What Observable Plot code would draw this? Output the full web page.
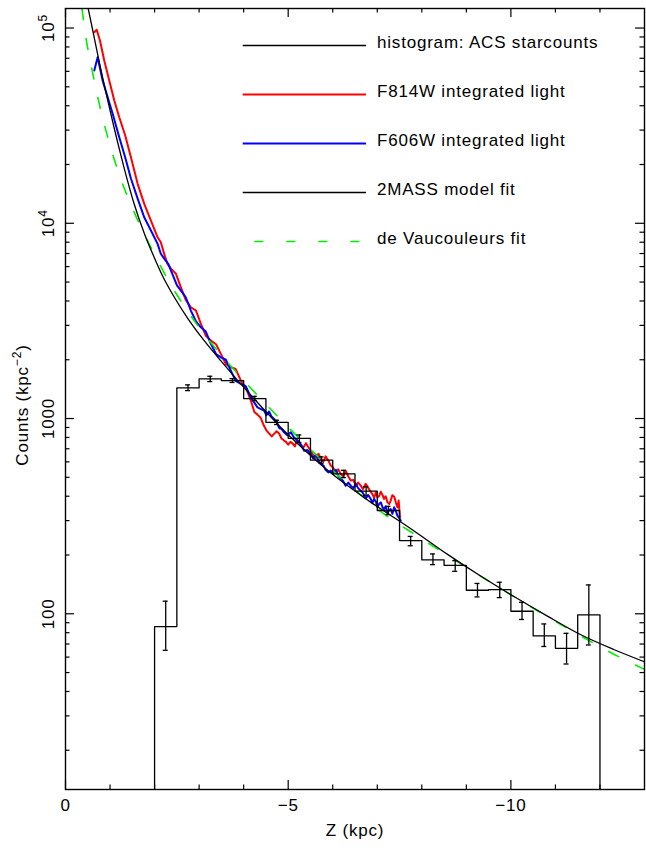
<!DOCTYPE html>
<html>
<head>
<meta charset="utf-8">
<script src="https://cdn.jsdelivr.net/npm/d3@7"></script>
<script src="https://cdn.jsdelivr.net/npm/@observablehq/plot@0.6"></script>
<style>
  html, body { margin: 0; padding: 0; background: #fff; }
  #chart svg { font-family: "Liberation Sans", Arial, sans-serif; }
  #chart svg text { letter-spacing: 0.8px; }
</style>
</head>
<body>
<div id="chart"></div>
<script>
// ---------- histogram: ACS starcounts (bins of 0.5 kpc) ----------
const binLo = [-2, -2.5, -3, -3.5, -4, -4.5, -5, -5.5, -6, -6.5, -7, -7.5, -8, -8.5, -9, -9.5, -10, -10.5, -11, -11.5];
const binWidth = 0.5;
const histCounts = [86, 1435, 1596, 1564, 1265, 956, 792, 612, 521, 425, 338, 237, 189, 177, 132, 133, 103, 77, 66.5, 98.6];
const histErrLo  = [65, 1390, 1546, 1530, 1236, 932, 755, 590, 498, 405, 322, 223, 178.5, 165, 122, 121, 93.5, 68, 55.3, 69.2];
const histErrHi  = [116, 1487, 1646, 1600, 1299, 980, 824, 636, 543, 447, 355, 249, 202.5, 187, 143, 145, 114.4, 88.7, 79.4, 140.5];

// ---------- 2MASS model fit ----------
const modelZ = [-0.505, -0.61, -0.72, -0.83, -0.95, -1.06, -1.17, -1.32, -1.54, -1.77, -1.99, -2.18, -2.44, -2.74, -3.11, -3.49, -3.86, -4.24, -4.54, -4.83, -5.36, -5.73, -6.11, -6.48, -6.85, -7.23, -7.53, -7.98, -8.57, -9.32, -10.07, -10.82, -11.56, -12.31, -13.02];
const modelCounts = [127350, 97700, 73800, 56200, 42460, 33110, 26000, 19050, 12590, 8870, 6700, 5370, 4190, 3270, 2512, 1972, 1574, 1259, 1059, 902, 692, 582, 495, 429, 373, 327, 295, 251, 202, 156, 122.5, 97.3, 78.3, 65.6, 56.5];

// ---------- de Vaucouleurs fit ----------
const devZ = [-0.37, -0.46, -0.61, -0.76, -0.95, -1.245, -1.507, -1.768, -2.068, -2.328, -2.741, -3.19, -3.638, -4.087, -4.536, -4.908, -5.433, -6.106, -6.629, -7.189, -7.75, -8.573, -9.32, -10.067, -10.816, -11.564, -12.31, -12.977];
const devCounts = [125500, 89130, 58880, 40740, 27540, 16790, 11890, 8810, 6457, 5012, 3548, 2570, 1941, 1493, 1161, 948, 719, 515, 406, 320, 263, 199.5, 156, 122.5, 96.8, 77.1, 62.1, 52.2];

// ---------- F814W integrated light ----------
const f814Z = [-0.646, -0.700, -0.774, -0.870, -0.982, -1.095, -1.207, -1.341, -1.469, -1.620, -1.768, -1.918, -2.068, -2.14, -2.216, -2.29, -2.367, -2.48, -2.591, -2.70, -2.815, -2.93, -3.040, -3.15, -3.264, -3.38, -3.488, -3.60, -3.712, -3.82, -3.937, -4.05, -4.161, -4.24, -4.311, -4.38, -4.453,
  -4.51, -4.57, -4.63, -4.684, -4.74, -4.80, -4.85, -4.908, -4.95, -5.00, -5.05, -5.103, -5.15, -5.19, -5.24, -5.283, -5.34, -5.40, -5.45, -5.507, -5.56, -5.62, -5.68, -5.731, -5.79, -5.84, -5.90, -5.956, -6.01, -6.07, -6.12, -6.180, -6.23, -6.29, -6.35, -6.404, -6.46, -6.52, -6.57, -6.629, -6.68, -6.74, -6.80, -6.853, -6.89, -6.93, -6.97, -7.003, -7.04, -7.08, -7.12, -7.151, -7.19, -7.23, -7.27, -7.302, -7.34, -7.38, -7.42, -7.452, -7.48, -7.510];
const f814Counts = [95200, 97900, 86300, 68200, 53800, 42520, 34930, 28140, 21790, 15920, 12570, 10320, 8480, 8000, 6970, 6200, 5860, 5510, 4700, 4050, 3713, 3570, 3052, 2655, 2507, 2400, 2143, 1900, 1830, 1795, 1564, 1440, 1236, 1080, 1047, 1010, 920,
  870, 840, 810, 834, 860, 835, 790, 771, 760, 735, 760, 744, 720, 772, 760, 726, 710, 748, 715, 685, 650, 627, 660, 623, 600, 640, 610, 574, 560, 530, 550, 520, 505, 540, 505, 481, 485, 453, 470, 453, 435, 463, 440, 422, 410, 392, 420, 395, 400, 422, 405, 387.5, 400, 372, 365, 380, 405, 398, 370, 351, 380, 312];

// ---------- F606W integrated light ----------
const f606Z = [-0.646, -0.722, -0.834, -0.947, -1.059, -1.207, -1.335, -1.469, -1.620, -1.768, -1.918, -2.068, -2.14, -2.216, -2.31, -2.405, -2.50, -2.591, -2.70, -2.815, -2.93, -3.040, -3.15, -3.264, -3.38, -3.488, -3.60, -3.712, -3.82, -3.937, -4.05, -4.161, -4.31, -4.459,
  -4.51, -4.57, -4.63, -4.684, -4.74, -4.80, -4.85, -4.908, -4.98, -5.06, -5.13, -5.209, -5.28, -5.36, -5.43, -5.507, -5.56, -5.62, -5.68, -5.731, -5.79, -5.84, -5.90, -5.956, -6.01, -6.07, -6.12, -6.180, -6.23, -6.29, -6.35, -6.404, -6.46, -6.52, -6.57, -6.629, -6.68, -6.74, -6.80, -6.853, -6.89, -6.93, -6.97, -7.003, -7.04, -7.08, -7.12, -7.151, -7.19, -7.23, -7.27, -7.302, -7.34, -7.38, -7.42, -7.452, -7.49, -7.526];
const f606Counts = [60600, 70900, 53800, 44200, 36360, 27590, 21970, 16950, 13380, 10730, 9180, 7845, 6980, 6597, 6180, 5462, 4820, 4522, 4180, 3572, 3140, 2933, 2790, 2412, 2140, 2058, 2000, 1760, 1560, 1504, 1460, 1284, 1140, 1098,
  1040, 1087, 1020, 995, 960, 892, 885, 850, 820, 850, 800, 771, 740, 684, 690, 658, 625, 653, 610, 588, 575, 547, 530, 541, 520, 546, 510, 491, 480, 453, 470, 453, 440, 462, 440, 427, 415, 390, 405, 387.5, 370, 387, 375, 351, 365, 372, 350, 344, 355, 327, 340, 344, 325, 351, 335, 318, 310, 300];

// ---------- axes ----------
const xDomain = [0, -13];
const yDomain = [Math.pow(10, 1.1), Math.pow(10, 5.1)];
const xTicksMajor = [0, -5, -10];
const xTicksMinor = [-1, -2, -3, -4, -6, -7, -8, -9, -11, -12];
const yTicksMajor = [100, 1000, 10000, 100000];
const yTicksMinor = [20, 30, 40, 50, 60, 70, 80, 90, 200, 300, 400, 500, 600, 700, 800, 900,
  2000, 3000, 4000, 5000, 6000, 7000, 8000, 9000, 20000, 30000, 40000, 50000, 60000, 70000, 80000, 90000];
const xLabel = "Z (kpc)";
const yLabel = "Counts (kpc^-2)";

// ---------- legend ----------
const legendLabels = ["histogram: ACS starcounts", "F814W integrated light", "F606W integrated light", "2MASS model fit", "de Vaucouleurs fit"];
const legendColors = ["#000000", "#ff0000", "#0000ff", "#000000", "#00ee00"];
const legendDash = [null, null, null, null, "9,23"];
const legendWidths = [1.3, 2, 2, 1.3, 1.6];

// ---------- build tables ----------
const zip = (zs, cs) => zs.map((z, i) => ({z, c: cs[i]}));
const model = zip(modelZ, modelCounts);
const dev = zip(devZ, devCounts);
const f814 = zip(f814Z, f814Counts);
const f606 = zip(f606Z, f606Counts);
const hist = binLo.map((lo, i) => ({lo, hi: lo - binWidth, mid: lo - binWidth / 2, c: histCounts[i], eLo: histErrLo[i], eHi: histErrHi[i]}));
const histPath = [
  {z: hist[0].lo, c: yDomain[0]},
  ...hist.flatMap(b => [{z: b.lo, c: b.c}, {z: b.hi, c: b.c}]),
  {z: hist[hist.length - 1].hi, c: yDomain[0]}
];

const W = 646, H = 848, ML = 65, MR = 2, MT = 8, MB = 59;
const iw = W - ML - MR, ih = H - MT - MB;
const majLen = 9, minLen = 4.5;

const chart = Plot.plot({
  width: W, height: H,
  marginLeft: ML, marginRight: MR, marginTop: MT, marginBottom: MB,
  style: {fontFamily: "'Liberation Sans', Arial, sans-serif", fontSize: "17px", color: "#000", background: "#fff", overflow: "visible"},
  x: {domain: xDomain, label: null},
  y: {type: "log", domain: yDomain, label: null},
  marks: [
    Plot.line(f814, {x: "z", y: "c", stroke: "#ff0000", strokeWidth: 2, clip: true}),
    Plot.line(f606, {x: "z", y: "c", stroke: "#0000ff", strokeWidth: 2, clip: true}),
    Plot.line(dev, {x: "z", y: "c", stroke: "#00ee00", strokeWidth: 1.6, strokeDasharray: "11,19", curve: "monotone-x", clip: true}),
    Plot.line(model, {x: "z", y: "c", stroke: "#000", strokeWidth: 1.3, curve: "monotone-x", clip: true}),
    Plot.line(histPath, {x: "z", y: "c", stroke: "#000", strokeWidth: 1.3, clip: true}),
    Plot.ruleX(hist, {x: "mid", y1: "eLo", y2: "eHi", stroke: "#000", strokeWidth: 1.3}),
    Plot.ruleY(hist, {y: "eLo", x1: "mid", x2: "mid", insetLeft: -2.5, insetRight: -2.5, stroke: "#000", strokeWidth: 1.3}),
    Plot.ruleY(hist, {y: "eHi", x1: "mid", x2: "mid", insetLeft: -2.5, insetRight: -2.5, stroke: "#000", strokeWidth: 1.3}),
    Plot.frame({stroke: "#000", strokeWidth: 1.4}),
    // inward ticks on all four sides
    Plot.tickX(xTicksMajor, {x: d => d, insetTop: ih - majLen, stroke: "#000", strokeWidth: 1.2}),
    Plot.tickX(xTicksMajor, {x: d => d, insetBottom: ih - majLen, stroke: "#000", strokeWidth: 1.2}),
    Plot.tickX(xTicksMinor, {x: d => d, insetTop: ih - minLen, stroke: "#000", strokeWidth: 1.2}),
    Plot.tickX(xTicksMinor, {x: d => d, insetBottom: ih - minLen, stroke: "#000", strokeWidth: 1.2}),
    Plot.tickY(yTicksMajor, {y: d => d, insetRight: iw - majLen, stroke: "#000", strokeWidth: 1.2}),
    Plot.tickY(yTicksMajor, {y: d => d, insetLeft: iw - majLen, stroke: "#000", strokeWidth: 1.2}),
    Plot.tickY(yTicksMinor, {y: d => d, insetRight: iw - minLen, stroke: "#000", strokeWidth: 1.2}),
    Plot.tickY(yTicksMinor, {y: d => d, insetLeft: iw - minLen, stroke: "#000", strokeWidth: 1.2}),
    Plot.axisX(xTicksMajor, {tickSize: 0, tickPadding: 9, fontSize: 17, label: null,
      tickFormat: d => d === 0 ? "0" : "\u2212" + Math.abs(d)}),
    Plot.axisY(yTicksMajor, {tickSize: 0, tickPadding: 12, tickRotate: -90, fontSize: 17, label: null,
      tickFormat: d => d >= 10000 ? "10^" + Math.round(Math.log10(d)) : String(d)}),
    Plot.text([xLabel], {text: d => d, frameAnchor: "bottom", dy: 46, fontSize: 17, textAnchor: "middle"}),
    Plot.text([yLabel], {text: d => d, frameAnchor: "left", dx: -43, dy: 6, rotate: -90, fontSize: 17, textAnchor: "middle"})
  ]
});

document.getElementById("chart").appendChild(chart);

// superscripts (10^5, kpc^-2)
d3.select(chart).selectAll("text").each(function () {
  const t = this.textContent;
  const m = t.match(/^(.*)\^(-?\d+)(.*)$/);
  if (!m) return;
  const sel = d3.select(this);
  sel.text(null);
  sel.append("tspan").text(m[1]);
  sel.append("tspan").attr("dy", -7).attr("font-size", 12).text(m[2].replace("-", "\u2212"));
  if (m[3]) sel.append("tspan").attr("dy", 7).text(m[3]);
});

// legend inside the plot area
const lg = d3.select(chart).append("g").attr("class", "legend").attr("text-anchor", "start");
const lgX1 = 242.7, lgX2 = 366, lgTextX = 377, lgY0 = 45.5, lgDY = 49;
legendLabels.forEach((lab, i) => {
  const y = lgY0 + i * lgDY;
  const ln = lg.append("line")
    .attr("x1", lgX1).attr("x2", lgX2).attr("y1", y).attr("y2", y)
    .attr("stroke", legendColors[i]).attr("stroke-width", legendWidths[i]);
  if (legendDash[i]) ln.attr("stroke-dasharray", legendDash[i]).attr("stroke-dashoffset", 20.4);
  lg.append("text").attr("x", lgTextX).attr("y", y + 2.5).attr("text-anchor", "start")
    .attr("font-size", 17).attr("fill", "#000").text(lab);
});
</script>
</body>
</html>
